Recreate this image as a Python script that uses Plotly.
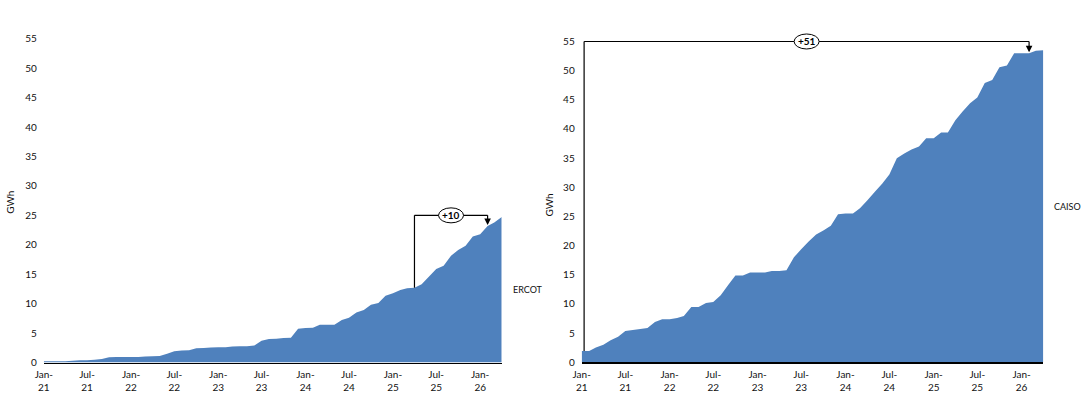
import pandas as pd
import plotly.graph_objects as go

# ---- data ----
months = pd.date_range("2021-01-01", periods=64, freq="MS")

ercot = [0.2, 0.2, 0.2, 0.2, 0.3, 0.4, 0.4, 0.45, 0.6, 0.9, 0.95, 0.95,
         0.95, 0.95, 1.0, 1.05, 1.1, 1.5, 1.9, 2.05, 2.1, 2.4, 2.45, 2.55,
         2.6, 2.6, 2.7, 2.75, 2.75, 2.9, 3.7, 4.0, 4.05, 4.15, 4.2, 5.75,
         5.85, 5.9, 6.4, 6.4, 6.4, 7.2, 7.6, 8.5, 8.9, 9.8, 10.1, 11.35,
         11.75, 12.3, 12.6, 12.7, 13.3, 14.6, 15.9, 16.45, 18.15, 19.1, 19.85, 21.4,
         21.8, 23.2, 23.8, 24.7]

caiso = [1.95, 1.95, 2.55, 3.0, 3.8, 4.4, 5.35, 5.55, 5.7, 5.9, 6.9, 7.4,
         7.4, 7.6, 7.95, 9.5, 9.5, 10.15, 10.35, 11.5, 13.25, 14.9, 14.9, 15.4,
         15.4, 15.4, 15.65, 15.65, 15.8, 18.0, 19.4, 20.7, 21.9, 22.6, 23.4, 25.4,
         25.5, 25.5, 26.4, 27.8, 29.2, 30.6, 32.2, 35.0, 35.8, 36.5, 37.0, 38.4,
         38.4, 39.4, 39.4, 41.5, 43.0, 44.4, 45.4, 47.9, 48.4, 50.6, 50.9, 53.0,
         53.0, 53.0, 53.4, 53.5]

tick_months = pd.date_range("2021-01-01", "2026-01-01", freq="6MS")
tick_labels = ["Jan-<br>21", "Jul-<br>21", "Jan-<br>22", "Jul-<br>22", "Jan-<br>23",
               "Jul-<br>23", "Jan-<br>24", "Jul-<br>24", "Jan-<br>25", "Jul-<br>25",
               "Jan-<br>26"]
y_ticks = [0, 5, 10, 15, 20, 25, 30, 35, 40, 45, 50, 55]

# bracket annotations: (start index, end index, bracket level, label)
ercot_bracket = (51, 61, 25, "+10")
caiso_bracket = (0, 61, 55, "+51")

series_names = ["ERCOT", "CAISO"]

# ---- styling ----
W, H = 1082, 407
BLUE = "#4F81BD"
FONT = "Lato"
TXT = "#111111"

fig = go.Figure()

def dom_x(a, b):
    return [a / W, b / W]

def dom_y(y_top_px, y_bot_px):
    return [(H - y_bot_px) / H, (H - y_top_px) / H]

YMAX = 58
l_top = 362.5 - YMAX * 5.886
r_top = 362.3 - YMAX * 5.833

fig.add_trace(go.Scatter(x=months, y=ercot, fill="tozeroy", mode="none",
                         fillcolor=BLUE, line=dict(width=0), xaxis="x", yaxis="y",
                         hoverinfo="skip", showlegend=False))
fig.add_trace(go.Scatter(x=months, y=caiso, fill="tozeroy", mode="none",
                         fillcolor=BLUE, line=dict(width=0), xaxis="x2", yaxis="y2",
                         hoverinfo="skip", showlegend=False))

xcommon = dict(type="date", range=[months[0], months[-1]], tickmode="array",
               tickvals=list(tick_months), ticktext=tick_labels, showgrid=False,
               zeroline=False, showline=True, linecolor="black", linewidth=1.5,
               ticks="", tickfont=dict(family=FONT, size=10, color=TXT),
               ticklabelstandoff=2, automargin=False, fixedrange=True)
ycommon = dict(range=[0, YMAX], tickmode="array", tickvals=y_ticks, showgrid=False,
               zeroline=False, showline=False, ticks="",
               tickfont=dict(family=FONT, size=10, color=TXT), automargin=False,
               ticklabelstandoff=6, fixedrange=True)

fig.update_layout(
    width=W, height=H, autosize=False,
    margin=dict(l=0, r=0, t=0, b=0),
    paper_bgcolor="white", plot_bgcolor="white",
    showlegend=False, hovermode=False,
    xaxis=dict(xcommon, domain=dom_x(43.8, 501.7), anchor="y"),
    yaxis=dict(ycommon, domain=dom_y(l_top, 362.5), anchor="x"),
    xaxis2=dict(xcommon, domain=dom_x(581.7, 1043.3), anchor="y2"),
    yaxis2=dict(ycommon, domain=dom_y(r_top, 362.3), anchor="x2"),
)

shapes = []
annotations = []

def add_bracket(xr, yr, data, br, offset_days):
    i0, i1, level, label = br
    xs = months[i0] + pd.Timedelta(days=offset_days)
    xe = months[i1]
    tip = data[i1] + 0.15
    ln = dict(color="black", width=1.2)
    shapes.append(dict(type="line", xref=xr, yref=yr, x0=xs, x1=xs,
                       y0=data[i0], y1=level, line=ln, layer="above"))
    shapes.append(dict(type="line", xref=xr, yref=yr, x0=xs, x1=xe,
                       y0=level, y1=level, line=ln, layer="above"))
    shapes.append(dict(type="line", xref=xr, yref=yr, x0=xe, x1=xe,
                       y0=level, y1=tip + 0.6, line=ln, layer="above"))
    annotations.append(dict(xref=xr, yref=yr, x=xe, y=tip, ax=0, ay=-7,
                            showarrow=True, arrowhead=2, arrowsize=1.1,
                            arrowwidth=1.2, arrowcolor="black", text=""))
    xm = xs + (xe - xs) / 2
    shapes.append(dict(type="circle", xref=xr, yref=yr, xsizemode="pixel",
                       ysizemode="pixel", xanchor=xm, yanchor=level,
                       x0=-12.5, x1=12.5, y0=-7.5, y1=7.5,
                       fillcolor="white", line=dict(color="black", width=1),
                       layer="above"))
    annotations.append(dict(xref=xr, yref=yr, x=xm, y=level, text="<b>" + label + "</b>",
                            showarrow=False, font=dict(family=FONT, size=10, color="black"),
                            xanchor="center", yanchor="middle"))

add_bracket("x", "y", ercot, ercot_bracket, 0)
add_bracket("x2", "y2", caiso, caiso_bracket, 10)

for xr, yr, data, name in [("x", "y", ercot, series_names[0]),
                           ("x2", "y2", caiso, series_names[1])]:
    annotations.append(dict(xref=xr, yref=yr, x=months[-1], y=data[-1] / 2,
                            text=name, showarrow=False, xanchor="left",
                            yanchor="middle", xshift=9,
                            font=dict(family=FONT, size=9, color=TXT)))

for px, py in [(9.7, 202), (548.5, 205)]:
    annotations.append(dict(xref="paper", yref="paper", x=px / W, y=1 - py / H,
                            text="GWh", textangle=-90, showarrow=False,
                            xanchor="center", yanchor="middle",
                            font=dict(family=FONT, size=10, color=TXT)))

fig.update_layout(shapes=shapes, annotations=annotations)

fig.write_html("out.html", config={"displayModeBar": False, "staticPlot": True},
               post_script="document.body.style.margin='0';document.body.style.overflow='hidden';")
